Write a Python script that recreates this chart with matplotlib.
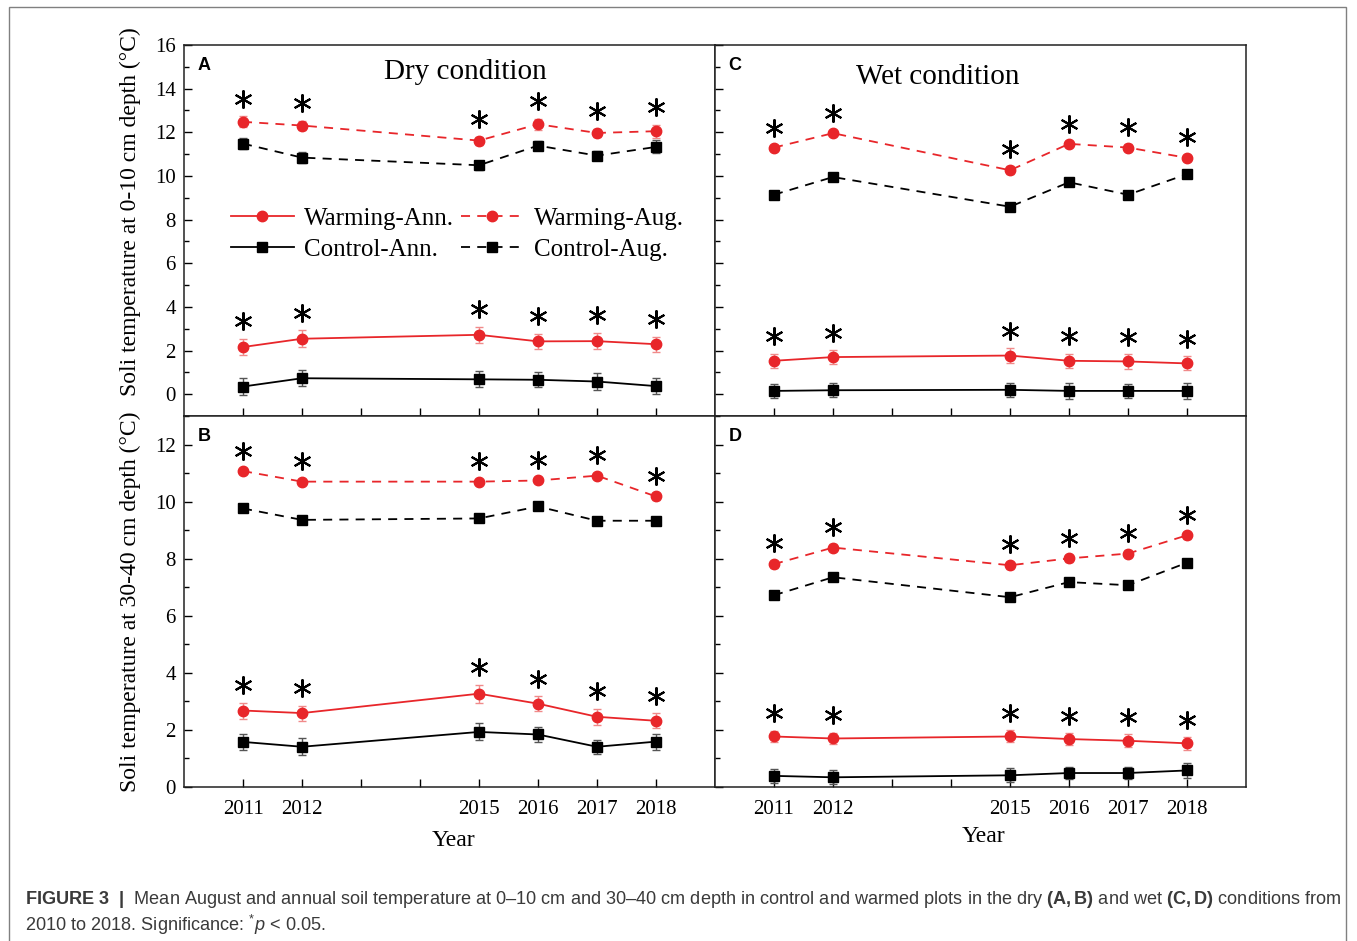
import matplotlib
matplotlib.use("Agg")
import matplotlib.pyplot as plt
import matplotlib.transforms as mtransforms
from matplotlib.patches import Rectangle
from matplotlib.ticker import MultipleLocator

# ---------------- data ----------------
years = [2011, 2012, 2015, 2016, 2017, 2018]
year_ticks = [2011, 2012, 2013, 2014, 2015, 2016, 2017, 2018]
year_labels = ["2011", "2012", "", "", "2015", "2016", "2017", "2018"]

# Panel A: dry, 0-10 cm
A_warm_aug = [12.48, 12.31, 11.62, 12.37, 11.97, 12.05]
A_ctrl_aug = [11.48, 10.84, 10.49, 11.39, 10.93, 11.33]
A_warm_ann = [2.16, 2.54, 2.72, 2.42, 2.43, 2.29]
A_ctrl_ann = [0.35, 0.73, 0.68, 0.66, 0.58, 0.37]
A_warm_aug_err = [0.25, 0.22, 0.18, 0.25, 0.2, 0.3]
A_ctrl_aug_err = [0.25, 0.25, 0.2, 0.2, 0.2, 0.3]
A_warm_ann_err = [0.38, 0.4, 0.38, 0.36, 0.38, 0.35]
A_ctrl_ann_err = [0.4, 0.37, 0.37, 0.35, 0.4, 0.35]

# Panel B: dry, 30-40 cm
B_warm_aug = [11.07, 10.70, 10.70, 10.74, 10.91, 10.18]
B_ctrl_aug = [9.76, 9.36, 9.41, 9.83, 9.33, 9.33]
B_warm_ann = [2.68, 2.59, 3.27, 2.92, 2.46, 2.32]
B_ctrl_ann = [1.58, 1.41, 1.93, 1.84, 1.41, 1.59]
B_warm_aug_err = [0.1, 0.1, 0.1, 0.1, 0.1, 0.12]
B_ctrl_aug_err = [0.1, 0.1, 0.1, 0.1, 0.12, 0.12]
B_warm_ann_err = [0.28, 0.26, 0.31, 0.27, 0.28, 0.26]
B_ctrl_ann_err = [0.29, 0.29, 0.3, 0.27, 0.25, 0.28]

# Panel C: wet, 0-10 cm
C_warm_aug = [11.30, 11.96, 10.26, 11.47, 11.30, 10.83]
C_ctrl_aug = [9.14, 9.95, 8.59, 9.71, 9.14, 10.08]
C_warm_ann = [1.53, 1.70, 1.77, 1.53, 1.50, 1.41]
C_ctrl_ann = [0.15, 0.18, 0.20, 0.15, 0.15, 0.15]
C_warm_aug_err = [0.12, 0.12, 0.18, 0.12, 0.15, 0.15]
C_ctrl_aug_err = [0.12, 0.12, 0.15, 0.12, 0.15, 0.15]
C_warm_ann_err = [0.33, 0.32, 0.33, 0.33, 0.33, 0.32]
C_ctrl_ann_err = [0.32, 0.33, 0.32, 0.35, 0.33, 0.35]

# Panel D: wet, 30-40 cm
D_warm_aug = [7.81, 8.39, 7.77, 8.01, 8.18, 8.82]
D_ctrl_aug = [6.72, 7.35, 6.65, 7.18, 7.07, 7.86]
D_warm_ann = [1.77, 1.70, 1.77, 1.68, 1.62, 1.53]
D_ctrl_ann = [0.39, 0.34, 0.41, 0.49, 0.49, 0.58]
D_warm_aug_err = [0.12, 0.12, 0.12, 0.12, 0.12, 0.12]
D_ctrl_aug_err = [0.12, 0.1, 0.12, 0.12, 0.12, 0.1]
D_warm_ann_err = [0.2, 0.2, 0.21, 0.21, 0.22, 0.22]
D_ctrl_ann_err = [0.25, 0.25, 0.25, 0.22, 0.22, 0.25]

# significance (all points significant)
sig_aug = [True, True, True, True, True, True]
sig_ann = [True, True, True, True, True, True]

series_labels = ["Warming-Ann.", "Control-Ann.", "Warming-Aug.", "Control-Aug."]
ylabels = ["Soli temperature at 0-10 cm depth (\u00b0C)",
           "Soli temperature at 30-40 cm depth (\u00b0C)"]
panel_titles = {"A": "Dry condition", "C": "Wet condition"}

# ---------------- style ----------------
plt.rcParams["font.family"] = ["Liberation Serif", "DejaVu Serif"]
plt.rcParams["mathtext.fontset"] = "custom"
plt.rcParams["mathtext.rm"] = "Liberation Sans"
plt.rcParams["mathtext.bf"] = "Liberation Sans:bold"
plt.rcParams["mathtext.it"] = "Liberation Sans:italic"

RED = "#e8262a"
RED_ERR = "#f08a8a"
BLK = "#000000"
BLK_ERR = "#555555"

W, H = 1357, 941
fig = plt.figure(figsize=(W / 100, H / 100), dpi=100)

# outer gray frame
fig.patches.append(Rectangle((9 / W, -0.01), (1346 - 9) / W, 1 - 7 / H + 0.01,
                             transform=fig.transFigure, fill=False,
                             edgecolor="#808080", linewidth=1.0))

x0, xm, x1 = 184 / W, 715 / W, 1246 / W
yt, ym, yb = 1 - 45 / H, 1 - 416 / H, 1 - 787 / H

axA = fig.add_axes([x0, ym, xm - x0, yt - ym])
axC = fig.add_axes([xm, ym, x1 - xm, yt - ym])
axB = fig.add_axes([x0, yb, xm - x0, ym - yb])
axD = fig.add_axes([xm, yb, x1 - xm, ym - yb])

panels = {
    "A": (axA, A_warm_ann, A_ctrl_ann, A_warm_aug, A_ctrl_aug,
          A_warm_ann_err, A_ctrl_ann_err, A_warm_aug_err, A_ctrl_aug_err),
    "B": (axB, B_warm_ann, B_ctrl_ann, B_warm_aug, B_ctrl_aug,
          B_warm_ann_err, B_ctrl_ann_err, B_warm_aug_err, B_ctrl_aug_err),
    "C": (axC, C_warm_ann, C_ctrl_ann, C_warm_aug, C_ctrl_aug,
          C_warm_ann_err, C_ctrl_ann_err, C_warm_aug_err, C_ctrl_aug_err),
    "D": (axD, D_warm_ann, D_ctrl_ann, D_warm_aug, D_ctrl_aug,
          D_warm_ann_err, D_ctrl_ann_err, D_warm_aug_err, D_ctrl_aug_err),
}

lw = 1.3
dash = (5, 4)
handles = {}
for key, (ax, wann, cann, waug, caug, wann_e, cann_e, waug_e, caug_e) in panels.items():
    specs = [
        (wann, wann_e, RED, RED_ERR, "o", 7.5, "-", series_labels[0]),
        (cann, cann_e, BLK, BLK_ERR, "s", 6.5, "-", series_labels[1]),
        (waug, waug_e, RED, RED_ERR, "o", 7.5, "--", series_labels[2]),
        (caug, caug_e, BLK, BLK_ERR, "s", 6.5, "--", series_labels[3]),
    ]
    for vals, errs, col, ecol, mk, ms, ls, lab in specs:
        ax.errorbar(years, vals, yerr=errs, fmt="none", ecolor=ecol,
                    elinewidth=1.0, capsize=3, capthick=1.0, zorder=2)
        ln, = ax.plot(years, vals, color=col, marker=mk, markersize=ms,
                      linewidth=lw, linestyle=ls, label=lab, zorder=3)
        if ls == "--":
            ln.set_dashes(dash)
        handles[lab] = ln

    # significance stars above the warming series error bars
    star_tr = mtransforms.offset_copy(ax.transData, fig=fig, x=0, y=12.5, units="points")
    for vals, errs, sig in [(waug, waug_e, sig_aug), (wann, wann_e, sig_ann)]:
        sx = [yr for yr, s in zip(years, sig) if s]
        sy = [v + e for v, e, s in zip(vals, errs, sig) if s]
        ax.plot(sx, sy, linestyle="none", marker=(6, 2, 0), markersize=13,
                markeredgewidth=1.5, color="black", transform=star_tr, zorder=4)

    ax.set_xlim(2010, 2019)
    ax.set_xticks(year_ticks)
    ax.yaxis.set_major_locator(MultipleLocator(2))
    ax.yaxis.set_minor_locator(MultipleLocator(1))
    ax.tick_params(axis="both", which="major", direction="in", length=6, width=1.0,
                   labelsize=15, top=False, right=False)
    ax.tick_params(axis="y", which="minor", direction="in", length=3.5, width=1.0,
                   right=False)
    ax.tick_params(axis="y", which="major", pad=6)
    ax.tick_params(axis="x", which="major", pad=9)
    for sp in ax.spines.values():
        sp.set_linewidth(1.1)
        sp.set_color("#222222")

    if key in ("A", "C"):
        ax.set_ylim(-1, 16)
        ax.set_yticks(range(0, 17, 2))
        ax.set_xticklabels([])
    else:
        ax.set_ylim(0, 13)
        ax.set_yticks(range(0, 13, 2))
        ax.set_xticklabels(year_labels)
    if key in ("C", "D"):
        ax.set_yticklabels([])

# panel letters
for key, ax in [("A", axA), ("B", axB), ("C", axC), ("D", axD)]:
    ax.text(0.025, 0.945, key, transform=ax.transAxes, fontsize=13,
            fontweight="bold", family=["Liberation Sans", "DejaVu Sans"],
            ha="left", va="center")

fig.text(465 / W, 1 - 72 / H, panel_titles["A"], fontsize=21, ha="center", va="center")
fig.text(938 / W, 1 - 77 / H, panel_titles["C"], fontsize=21, ha="center", va="center")

# legend in panel A
axA.legend([handles[l] for l in series_labels], series_labels, ncol=2,
           loc="center", bbox_to_anchor=(0.515, 0.49), frameon=False,
           fontsize=18, handlelength=2.5, handletextpad=0.4,
           columnspacing=0.3, labelspacing=0.35, borderpad=0.2)

# y labels
fig.text(130 / W, 1 - 211.5 / H, ylabels[0], rotation=90, fontsize=17,
         ha="center", va="center")
fig.text(130 / W, 1 - 602 / H, ylabels[1], rotation=90, fontsize=17,
         ha="center", va="center")

# x labels
fig.text(453 / W, 1 - 840 / H, "Year", fontsize=17, ha="center", va="center")
fig.text(983 / W, 1 - 836 / H, "Year", fontsize=17, ha="center", va="center")

# caption
cap1 = (r"$\mathbf{FIGURE\ 3\ \ |}$  Mean August and annual soil temperature at 0\u201310 cm and "
        r"30\u201340 cm depth in control and warmed plots in the dry $\mathbf{(A,B)}$ "
        r"and wet $\mathbf{(C,D)}$ conditions from")
cap1 = cap1.replace("\\u2013", "\u2013")
cap2 = r"2010 to 2018. Significance: ${}^{*}\mathit{p}$ < 0.05."
capkw = dict(family=["Liberation Sans", "DejaVu Sans"], color="#3a3a3a",
             ha="left", va="center")
t1 = fig.text(25 / W, 1 - 900 / H, cap1, fontsize=13, **capkw)
t2 = fig.text(25 / W, 1 - 925 / H, cap2, fontsize=13, **capkw)
fig.canvas.draw()
wpx = t1.get_window_extent().width
fs = 13 * (1337 - 25) / wpx
t1.set_fontsize(fs)
t2.set_fontsize(fs)

fig.savefig("out.png", dpi=100)
